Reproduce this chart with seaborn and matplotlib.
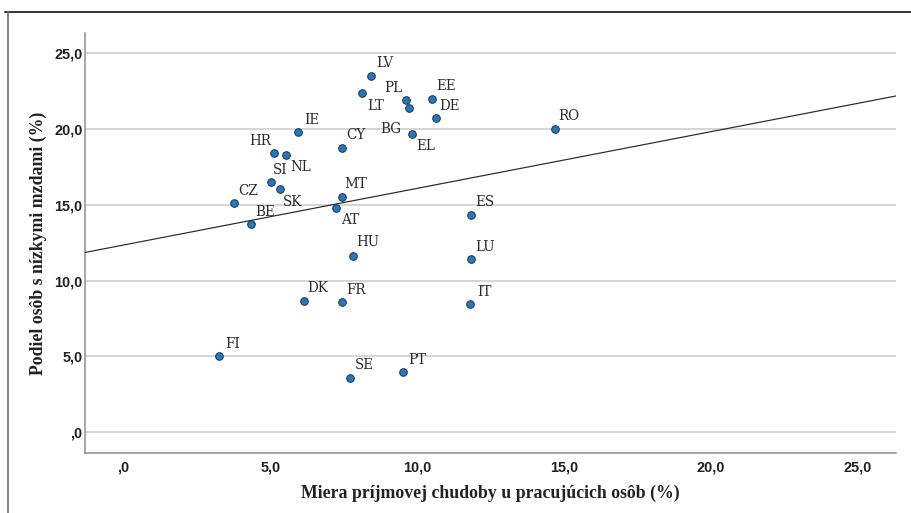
"""Scatter of low-wage share vs in-work poverty rate, EU member states."""

import matplotlib

matplotlib.use("Agg")
import matplotlib.pyplot as plt
from matplotlib.lines import Line2D
from matplotlib.ticker import FuncFormatter, MultipleLocator
import pandas as pd
import seaborn as sns

# values
countries = ["LV", "LT", "PL", "BG", "EE", "DE", "EL", "IE", "CY", "HR",
             "NL", "SI", "SK", "CZ", "BE", "MT", "AT", "HU", "ES", "LU",
             "IT", "DK", "FR", "FI", "SE", "PT", "RO"]
in_work_poverty = [8.43, 8.13, 9.62, 9.72, 10.51, 10.63, 9.81, 5.94, 7.44, 5.14,
                   5.55, 5.04, 5.35, 3.76, 4.35, 7.44, 7.23, 7.82, 11.82, 11.82,
                   11.80, 6.14, 7.43, 3.25, 7.73, 9.53, 14.69]
low_wage_share = [23.49, 22.33, 21.87, 21.38, 21.96, 20.69, 19.65, 19.78, 18.73, 18.42,
                  18.25, 16.51, 16.00, 15.08, 13.70, 15.52, 14.76, 11.61, 14.33, 11.40,
                  8.45, 8.67, 8.58, 5.00, 3.60, 3.95, 20.00]

x_label = "Miera príjmovej chudoby u pracujúcich osôb (%)"
y_label = "Podiel osôb s nízkymi mzdami (%)"

df = pd.DataFrame({"country": countries, "x": in_work_poverty, "y": low_wage_share})

# label placement (offset points; default is up-right of the marker)
default_offset = (14, 12.5)
label_offsets = {
    "PL": (-12.5, 12), "LT": (13.5, -12.5), "BG": (-18, -21.5), "EL": (14, -12),
    "HR": (-14.5, 12), "NL": (14, -12), "SI": (8.5, 11.5), "SK": (12.5, -12.5),
    "AT": (14.5, -11.5), "HU": (14.5, 14),
}

sns.set_theme(style="white")
plt.rcParams["font.family"] = ["Liberation Sans", "DejaVu Sans"]

DPI = 72
fig = plt.figure(figsize=(911 / DPI, 513 / DPI), dpi=DPI)
ax = fig.add_axes([84.5 / 911, 1 - 453 / 513, (896 - 84.5) / 911, (453 - 33) / 513])

ax.set_xlim(-1.32, 26.3)
ax.set_ylim(-1.36, 26.3)

sns.regplot(data=df, x="x", y="y", ax=ax, scatter=False, ci=None,
            truncate=False, line_kws={"color": "#2a2a2a", "lw": 1.2, "zorder": 3})
sns.scatterplot(data=df, x="x", y="y", ax=ax, s=58, color="#2677bd",
                edgecolor="#1d3550", linewidth=1.0, zorder=4, legend=False)

for name, px, py in zip(countries, in_work_poverty, low_wage_share):
    ax.annotate(name, (px, py), xytext=label_offsets.get(name, default_offset),
                textcoords="offset points", ha="center", va="center",
                family="DejaVu Serif", fontsize=13.5, color="#2b2b2b", zorder=5)

ax.set_xlim(-1.32, 26.3)
ax.set_ylim(-1.36, 26.3)

fmt = FuncFormatter(lambda v, _: ",0" if abs(v) < 1e-9 else f"{v:.1f}".replace(".", ","))
ax.xaxis.set_major_locator(MultipleLocator(5))
ax.yaxis.set_major_locator(MultipleLocator(5))
ax.xaxis.set_major_formatter(fmt)
ax.yaxis.set_major_formatter(fmt)
ax.tick_params(length=0, labelsize=14.5, colors="#222222", pad=2)
ax.tick_params(axis="x", pad=8)
for lab in ax.get_xticklabels() + ax.get_yticklabels():
    lab.set_fontweight("bold")

ax.yaxis.grid(True, color="#cdcdcd", lw=1.6)
ax.xaxis.grid(False)
ax.set_axisbelow(True)
for side in ["top", "right"]:
    ax.spines[side].set_visible(False)
for side in ["left", "bottom"]:
    ax.spines[side].set_color("#8c8c8c")
    ax.spines[side].set_linewidth(1.5)

ax.set_xlabel(x_label, family="Liberation Serif", fontweight="bold",
              fontsize=17.8, color="#222222", labelpad=10)
ax.set_ylabel(y_label, family="Liberation Serif", fontweight="bold",
              fontsize=17.8, color="#222222", labelpad=7)

# outer frame of the figure
fig.add_artist(Line2D([5 / 911, 1], [1 - 12 / 513] * 2, color="#222222", lw=1.8,
                      transform=fig.transFigure))
fig.add_artist(Line2D([8 / 911] * 2, [0, 1 - 12 / 513], color="#7a7a7a", lw=1.8,
                      transform=fig.transFigure))

fig.savefig("out.png", dpi=DPI)
